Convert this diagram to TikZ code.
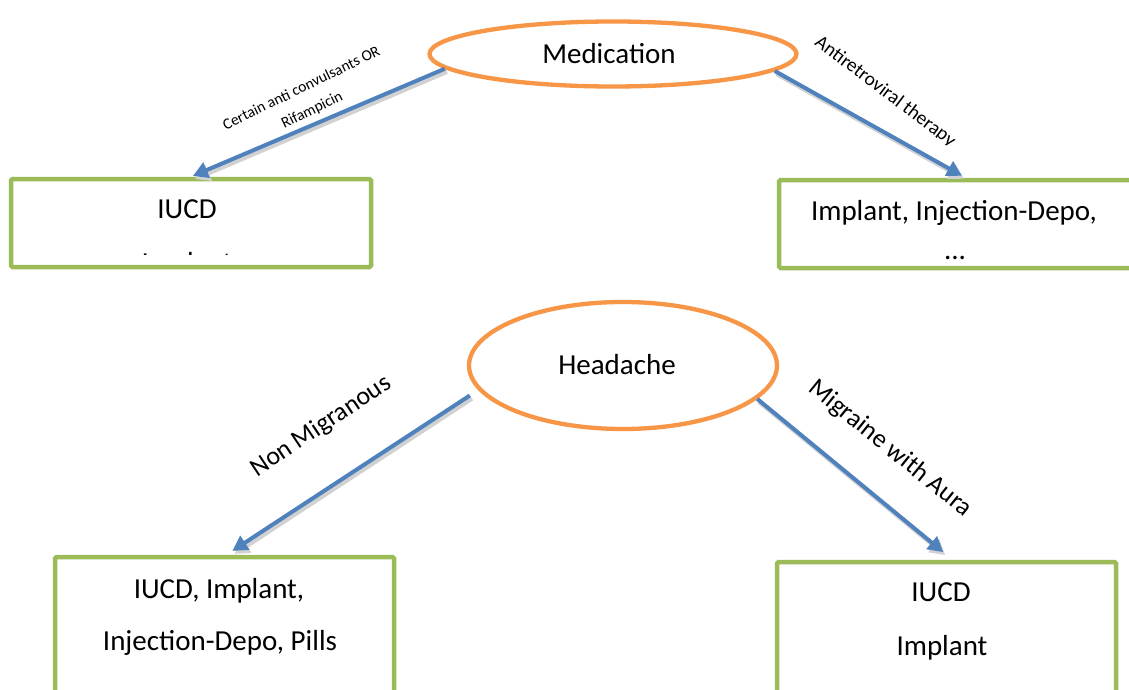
\documentclass[tikz,border=0pt]{standalone}
\usepackage{fontspec}
\setmainfont{Carlito}
\usetikzlibrary{shapes.geometric,arrows.meta,calc}
\definecolor{ellorange}{HTML}{F79646}
\definecolor{boxgreen}{HTML}{9BBB59}
\definecolor{arrblue}{HTML}{4F81BD}
\tikzset{
  ell/.style={ellipse, draw=ellorange, line width=4.3pt, inner sep=0pt},
  box/.style={rectangle, draw=boxgreen, line width=4.5pt, rounded corners=1.5pt, inner sep=0pt},
  big/.style={font=\fontsize{29}{34}\selectfont, inner sep=0pt, anchor=base},
  conn/.style={draw=arrblue, line width=4pt, -{Triangle[length=15pt,width=16pt]},
    preaction={draw=black!18, line width=4.5pt, transform canvas={shift={(2pt,-3pt)}}}},
  lbl/.style={inner sep=0pt, anchor=base, text=black},
}
\begin{document}
\begin{tikzpicture}[x=1pt,y=-1pt]
\clip (0,0) rectangle (1129,690);
\fill[white] (0,0) rectangle (1129,690);

% ellipses
\node[ell, minimum width=367pt, minimum height=65pt] (med) at (613,54) {};
\node[big] (medt) at (609,63.5) {Medication};
\node[ell, minimum width=308pt, minimum height=127pt] (head) at (623,365.5) {};
\node[big] (headt) at (617,374) {Headache};

% boxes
\node[box, minimum width=360pt, minimum height=88pt] (b1) at (191,223) {};
\node[box, minimum width=353pt, minimum height=88pt] (b2) at (955.5,224) {};
\node[box, minimum width=339pt, minimum height=153pt] (b3) at (224.5,633.5) {};
\node[box, minimum width=339pt, minimum height=153pt] (b4) at (946.5,638.5) {};

% box texts
\begin{scope}
  \clip (13,181) rectangle (369,254.5);
  \node[big] (b1a) at (187,218) {IUCD};
  \node[big] (b1b) at (187,272) {Implant};
\end{scope}
\begin{scope}
  \clip (781,182) rectangle (1129,262);
  \node[big] (b2a) at (954,220) {Implant, Injection-Depo,};
  \node[big] (b2b) at (955,259) {...};
\end{scope}
\node[big] (b3a) at (219,598) {IUCD, Implant,};
\node[big] (b3b) at (220,650) {Injection-Depo, Pills};
\node[big] (b4a) at (941,601) {IUCD};
\node[big] (b4b) at (942,655) {Implant};

% connectors
\draw[conn, shorten >=2pt] (med.185) -- (b1.north);
\draw[conn, shorten >=4pt] (med.-6) -- ([xshift=10pt]b2.north);
\draw[conn, shorten >=7pt] ([shift={(3pt,-30pt)}]head.west) -- ([xshift=2pt]b3.north);
\draw[conn, shorten >=12pt] (head.-14) -- ([xshift=6pt]b4.north);

% labels
\node[lbl, rotate=26, align=center, font=\fontsize{15.5}{24}\selectfont] (l1) at (314,114)
  {Certain anti convulsants OR\\Rifampicin};
\begin{scope}[shift={(882,96)}, rotate=-37]
  \clip (-130,-30) rectangle (130,0.5);
  \node[lbl, rotate=-37, font=\fontsize{19.5}{22}\selectfont] (l2) at (0,0) {Antiretroviral therapy};
\end{scope}
\node[lbl, rotate=33.7, font=\fontsize{26}{30}\selectfont] (l3) at (325,432) {Non Migranous};
\node[lbl, rotate=-39, font=\fontsize{26}{30}\selectfont] (l4) at (886,454) {Migraine with Aura};
\end{tikzpicture}
\end{document}
